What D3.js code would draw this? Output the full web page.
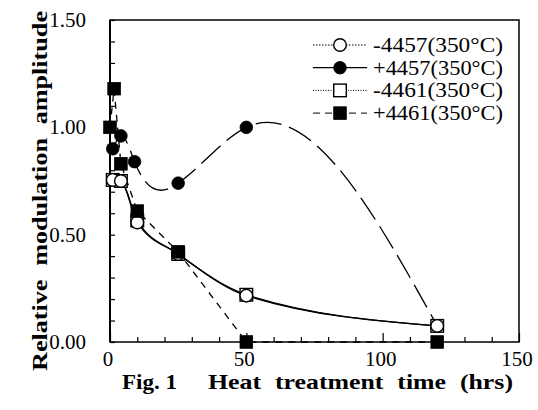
<!DOCTYPE html>
<html lang="en">
<head>
    <meta charset="UTF-8">
    <title>Relative modulation amplitude vs heat treatment time</title>
    <style>
        body { margin: 0; background: #fff; }
        text { font-family: "Liberation Serif", "Times New Roman", serif; fill: #000; }
        .frame { fill: none; stroke: #000; stroke-width: 1.5px; }
        .tick line { stroke: #000; stroke-width: 1.2px; }
        .curve { fill: none; stroke: #000; stroke-width: 1.3px; }
    </style>
</head>
<body>
    <div id="chart"></div>

    <script src="https://d3js.org/d3.v7.min.js"></script>
    <script>
        // Datos
        const hrsM4457 = [1, 4, 10, 25, 50, 120];
        const valM4457 = [0.755, 0.75, 0.557, 0.41, 0.216, 0.075];
        const hrsP4457 = [1, 4, 9, 25, 50, 120];
        const valP4457 = [0.90, 0.96, 0.84, 0.74, 1.00, 0.075];
        const hrsM4461 = [1, 4, 10, 25, 50, 120];
        const valM4461 = [0.755, 0.75, 0.566, 0.41, 0.22, 0.075];
        const hrsP4461 = [0, 1.5, 4, 10, 25, 50, 120];
        const valP4461 = [1.00, 1.18, 0.83, 0.61, 0.42, 0.00, 0.00];

        const legendLabels = ["-4457(350°C)", "+4457(350°C)", "-4461(350°C)", "+4461(350°C)"];
        const xTickLabels = [0, 50, 100, 150];
        const yTickLabels = [0, 0.5, 1.0, 1.5];

        const width = 538, height = 410;
        const margin = { top: 20, right: 19, bottom: 68, left: 110 };

        // Spline cúbica natural y(x) (como la de los programas de gráficos antiguos)
        function curveNaturalX(context) {
            return {
                areaStart() {}, areaEnd() {},
                lineStart() { this._x = []; this._y = []; },
                point(px, py) { this._x.push(+px); this._y.push(+py); },
                lineEnd() {
                    const xs = this._x, ys = this._y, n = xs.length;
                    if (!n) return;
                    context.moveTo(xs[0], ys[0]);
                    if (n < 3) { if (n === 2) context.lineTo(xs[1], ys[1]); return; }
                    const h = [], d = [];
                    for (let i = 0; i < n - 1; i++) {
                        h.push(xs[i + 1] - xs[i]);
                        d.push((ys[i + 1] - ys[i]) / h[i]);
                    }
                    // sistema tridiagonal para las segundas derivadas
                    const M = new Array(n).fill(0);
                    const a = [], b = [], c = [], r = [];
                    for (let i = 1; i < n - 1; i++) {
                        a.push(h[i - 1]); b.push(2 * (h[i - 1] + h[i])); c.push(h[i]);
                        r.push(6 * (d[i] - d[i - 1]));
                    }
                    const m = b.length;
                    for (let i = 1; i < m; i++) {
                        const w = a[i] / b[i - 1];
                        b[i] -= w * c[i - 1];
                        r[i] -= w * r[i - 1];
                    }
                    const sol = new Array(m);
                    sol[m - 1] = r[m - 1] / b[m - 1];
                    for (let i = m - 2; i >= 0; i--) sol[i] = (r[i] - c[i] * sol[i + 1]) / b[i];
                    for (let i = 0; i < m; i++) M[i + 1] = sol[i];
                    for (let i = 0; i < n - 1; i++) {
                        const s0 = d[i] - h[i] * (2 * M[i] + M[i + 1]) / 6;
                        const s1 = d[i] + h[i] * (M[i] + 2 * M[i + 1]) / 6;
                        context.bezierCurveTo(
                            xs[i] + h[i] / 3, ys[i] + s0 * h[i] / 3,
                            xs[i + 1] - h[i] / 3, ys[i + 1] - s1 * h[i] / 3,
                            xs[i + 1], ys[i + 1]);
                    }
                }
            };
        }

        const svg = d3.select("#chart").append("svg")
            .attr("width", width)
            .attr("height", height);

        const x = d3.scaleLinear().domain([0, 150]).range([margin.left, width - margin.right]);
        const y = d3.scaleLinear().domain([0, 1.5]).range([height - margin.bottom, margin.top]);

        const pts = (hs, vs) => hs.map((h, i) => ({ h: h, v: vs[i] }));

        const series = [
            { key: "m4457", data: pts(hrsM4457, valM4457), shape: "circle", filled: false,
              curve: d3.curveMonotoneX, dash: null, legendDash: "1.5,1.5" },
            { key: "p4457", data: pts(hrsP4457, valP4457), shape: "circle", filled: true,
              curve: curveNaturalX, dash: "26,8", legendDash: null },
            { key: "m4461", data: pts(hrsM4461, valM4461), shape: "square", filled: false,
              curve: d3.curveMonotoneX, dash: null, legendDash: "1,1.5" },
            { key: "p4461", data: pts(hrsP4461, valP4461), shape: "square", filled: true,
              curve: d3.curveLinear, dash: "7,6", legendDash: "7,5" }
        ];

        // Ejes (marcas hacia dentro)
        const xAxis = svg.append("g")
            .attr("class", "x axis")
            .attr("transform", `translate(0,${y(0)})`)
            .call(d3.axisBottom(x).tickValues(d3.range(0, 151, 10)).tickSize(-5).tickFormat(""));
        xAxis.select(".domain").remove();
        xAxis.selectAll(".tick").filter(d => d % 50 === 0).select("line").attr("y2", -9);

        const yAxis = svg.append("g")
            .attr("class", "y axis")
            .attr("transform", `translate(${x(0)},0)`)
            .call(d3.axisLeft(y).tickValues(d3.range(0, 1.51, 0.1)).tickSize(-5).tickFormat(""));
        yAxis.select(".domain").remove();

        svg.append("rect")
            .attr("class", "frame")
            .attr("x", x(0)).attr("y", y(1.5))
            .attr("width", x(150) - x(0)).attr("height", y(0) - y(1.5));
        svg.append("line")
            .attr("x1", x(0)).attr("x2", x(0)).attr("y1", y(1.5)).attr("y2", y(0))
            .attr("stroke", "#000").attr("stroke-width", 2);

        svg.selectAll(".xlab").data(xTickLabels).join("text")
            .attr("class", "xlab")
            .attr("x", d => x(d) - 2)
            .attr("y", y(0) + 24)
            .attr("text-anchor", "middle")
            .style("font-size", "21px")
            .text(d => d);

        svg.selectAll(".ylab").data(yTickLabels).join("text")
            .attr("class", "ylab")
            .attr("x", 86)
            .attr("y", d => y(d) + 7)
            .attr("text-anchor", "end")
            .style("font-size", "21px")
            .text(d => d.toFixed(2));

        // Títulos
        svg.append("text")
            .attr("x", 122).attr("y", 389)
            .style("font-size", "21px").style("font-weight", "bold")
            .attr("textLength", 55).attr("lengthAdjust", "spacingAndGlyphs")
            .text("Fig. 1");
        svg.append("text")
            .attr("x", 208).attr("y", 389)
            .style("font-size", "21px").style("font-weight", "bold")
            .style("word-spacing", "6px")
            .attr("textLength", 305).attr("lengthAdjust", "spacingAndGlyphs")
            .text("Heat treatment time (hrs)");
        svg.append("text")
            .attr("transform", "translate(47,191) rotate(-90)")
            .attr("text-anchor", "middle")
            .style("font-size", "22px").style("font-weight", "bold")
            .style("word-spacing", "6px")
            .attr("textLength", 360).attr("lengthAdjust", "spacingAndGlyphs")
            .text("Relative modulation amplitude");

        // Curvas
        series.forEach(s => {
            svg.append("path")
                .datum(s.data)
                .attr("class", "curve")
                .attr("stroke-dasharray", s.dash)
                .attr("d", d3.line().curve(s.curve).x(d => x(d.h)).y(d => y(d.v)));
        });

        // Marcadores
        function drawMarker(g, shape, filled) {
            const m = shape === "circle"
                ? g.append("circle").attr("r", 6.3)
                : g.append("rect").attr("x", -6.3).attr("y", -6.3).attr("width", 12.6).attr("height", 12.6);
            m.attr("fill", filled ? "#000" : "#fff")
             .attr("stroke", "#000")
             .attr("stroke-width", filled ? 0.8 : 1.4);
        }

        ["p4457", "m4461", "m4457", "p4461"].forEach(k => {
            const s = series.find(d => d.key === k);
            svg.selectAll(".mk-" + k).data(s.data).join("g")
                .attr("class", "mk-" + k)
                .attr("transform", d => `translate(${x(d.h)},${y(d.v)})`)
                .each(function() { drawMarker(d3.select(this), s.shape, s.filled); });
        });

        // Leyenda
        const legend = svg.append("g").attr("transform", "translate(313,45)");
        series.forEach((s, i) => {
            const row = legend.append("g").attr("transform", `translate(0,${i * 22.7})`);
            row.append("line")
                .attr("x1", 0).attr("x2", 54)
                .attr("stroke", "#000")
                .attr("stroke-width", s.legendDash ? 1 : 1.3)
                .attr("stroke-dasharray", s.legendDash);
            drawMarker(row.append("g").attr("transform", "translate(27,0)"), s.shape, s.filled);
            row.append("text")
                .attr("x", 60).attr("y", 7)
                .style("font-size", "21px")
                .attr("textLength", 130).attr("lengthAdjust", "spacingAndGlyphs")
                .text(legendLabels[i]);
        });
    </script>
</body>
</html>
